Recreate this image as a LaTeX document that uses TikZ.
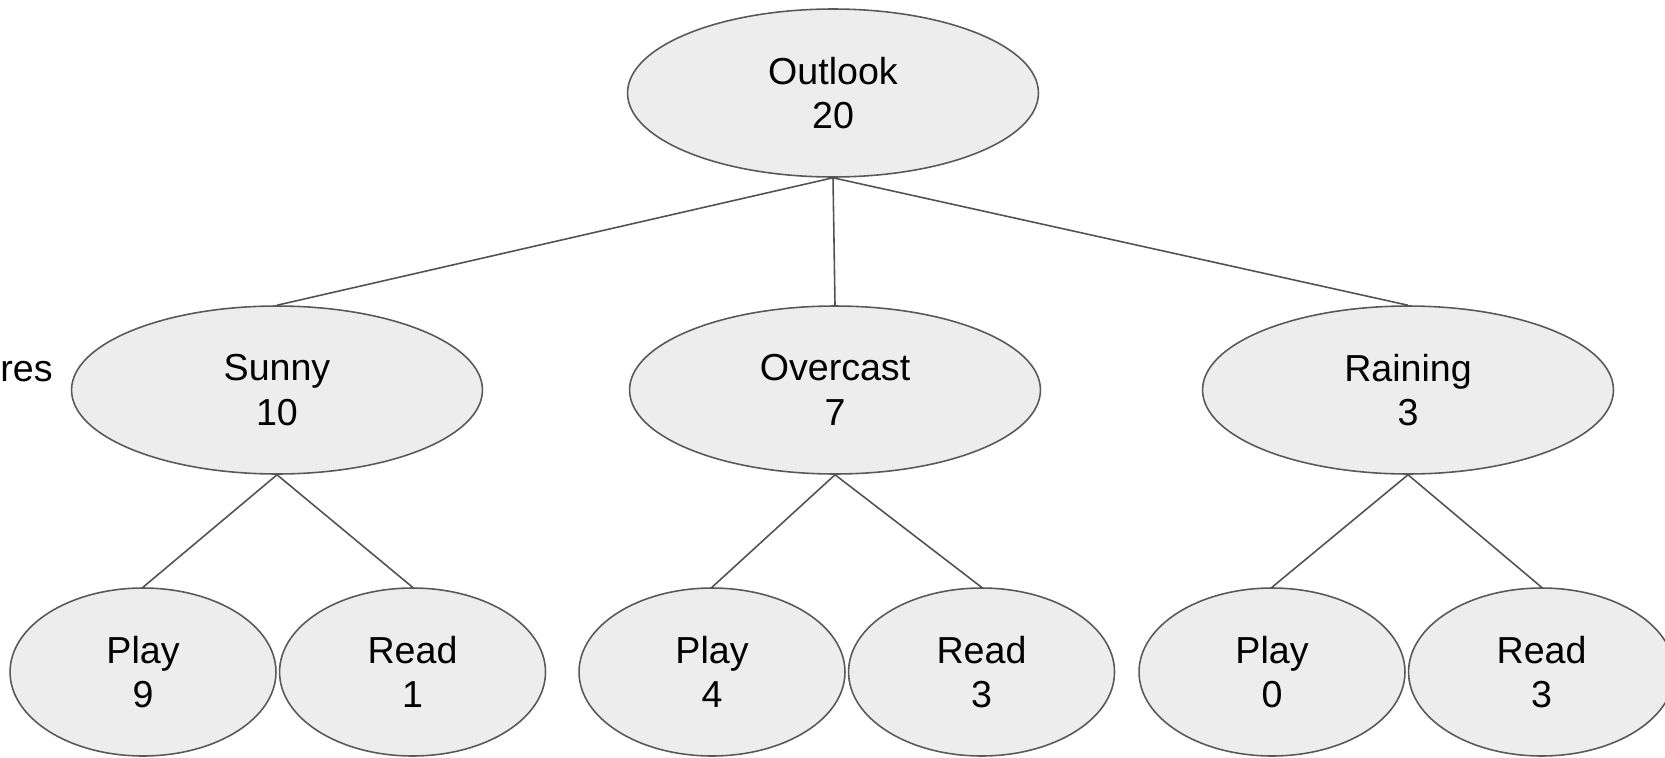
\documentclass[tikz,border=0pt]{standalone}
\usepackage{fontspec}
\setmainfont{Liberation Sans}
\usetikzlibrary{positioning, shapes.geometric}

\begin{document}
\begin{tikzpicture}[
    x=0.02cm, y=-0.02cm,
    node distance=0.04cm,
    induk/.style={ellipse, draw=black!65, fill=black!7, line width=0.9pt, inner sep=0pt,
                  minimum width=8.22cm, minimum height=3.36cm,
                  align=center, font=\fontsize{21.4}{25.2}\selectfont},
    daun/.style={induk, minimum width=5.32cm},
    garis/.style={draw=black!68, line width=0.9pt}
  ]
    \clip (0,0) rectangle (1665,757);
    \node[induk] (outlook) at (833,93) {Outlook\\20};
    \node[induk] (sunny) at (277,390) {Sunny\\10};
    \node[induk] (overcast) at (835,390) {Overcast\\7};
    \node[induk] (raining) at (1408,390) {Raining\\3};
    \node[anchor=base east, inner sep=0pt, font=\fontsize{21.4}{25.2}\selectfont] (fitur) at (53,381) {res};
    \node[daun] (play1) at (143,672) {Play\\9};
    \node[daun, right=of play1] (read1) {Read\\1};
    \node[daun] (play2) at (712,672) {Play\\4};
    \node[daun, right=of play2] (read2) {Read\\3};
    \node[daun] (play3) at (1272,672) {Play\\0};
    \node[daun, right=of play3] (read3) {Read\\3};
    \draw[garis] (outlook.south) -- (sunny.north);
    \draw[garis] (outlook.south) -- (overcast.north);
    \draw[garis] (outlook.south) -- (raining.north);
    \draw[garis] (sunny.south) -- (play1.north);
    \draw[garis] (sunny.south) -- (read1.north);
    \draw[garis] (overcast.south) -- (play2.north);
    \draw[garis] (overcast.south) -- (read2.north);
    \draw[garis] (raining.south) -- (play3.north);
    \draw[garis] (raining.south) -- (read3.north);
  \end{tikzpicture}
\end{document}
